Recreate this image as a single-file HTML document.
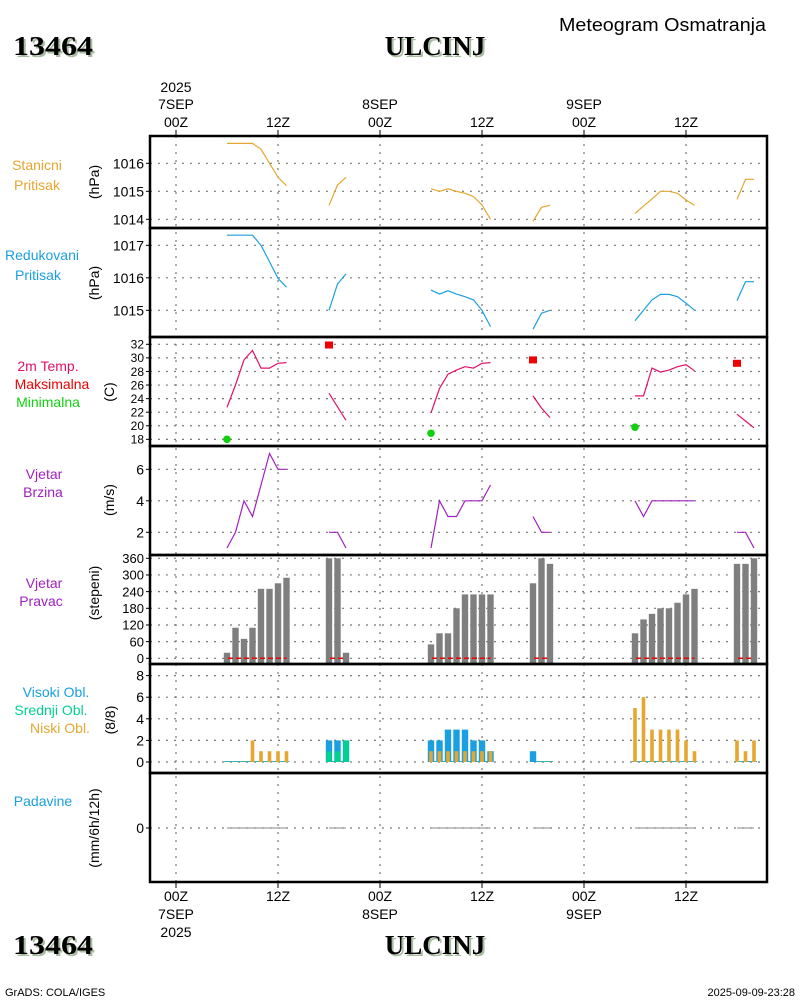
<!DOCTYPE html>
<html><head><meta charset="utf-8">
<style>
html,body{margin:0;padding:0;background:#fff;}
svg{display:block;font-family:"Liberation Sans",sans-serif;}
.t{font-size:14px;fill:#000;}
.big{font-family:"Liberation Serif",serif;font-weight:bold;font-size:27px;fill:#000;}
</style></head>
<body>
<svg id="chart" width="800" height="1000" viewBox="0 0 800 1000" xmlns="http://www.w3.org/2000/svg">
<g>
<text x="559" y="31" font-size="18" textLength="207" lengthAdjust="spacingAndGlyphs">Meteogram Osmatranja</text>
<text x="15" y="57" class="big" textLength="80" lengthAdjust="spacingAndGlyphs" style="fill:#a8bca0">13464</text>
<text x="13" y="55" class="big" textLength="80" lengthAdjust="spacingAndGlyphs">13464</text>
<text x="437" y="57" class="big" text-anchor="middle" style="fill:#a8bca0">ULCINJ</text>
<text x="435" y="55" class="big" text-anchor="middle">ULCINJ</text>
</g>
<g>
<text x="15" y="956" class="big" textLength="80" lengthAdjust="spacingAndGlyphs" style="fill:#a8bca0">13464</text>
<text x="13" y="954" class="big" textLength="80" lengthAdjust="spacingAndGlyphs">13464</text>
<text x="437" y="956" class="big" text-anchor="middle" style="fill:#a8bca0">ULCINJ</text>
<text x="435" y="954" class="big" text-anchor="middle">ULCINJ</text>
<text x="5" y="996" font-size="11">GrADS: COLA/IGES</text>
<text x="795" y="996" font-size="11" text-anchor="end">2025-09-09-23:28</text>
</g>
<g id="grid"></g>
<g id="marks"></g>
<g id="frames"></g>
<g id="labels"></g>
</svg>
<script>
// ---- data ----
const hours = [6,7,8,9,10,11,12,13, 18,19,20, 30,31,32,33,34,35,36,37, 42,43,44, 54,55,56,57,58,59,60,61, 66,67,68];
const groups = [0,0,0,0,0,0,0,0, 1,1,1, 2,2,2,2,2,2,2,2, 3,3,3, 4,4,4,4,4,4,4,4, 5,5,5];
const stationP = [1016.71,1016.71,1016.71,1016.71,1016.5,1016.0,1015.5,1015.2, 1014.5,1015.22,1015.5, 1015.09,1015.0,1015.09,1015.0,1014.93,1014.81,1014.51,1014.0, 1013.93,1014.43,1014.5, 1014.21,1014.47,1014.73,1015.0,1015.0,1014.93,1014.69,1014.5, 1014.71,1015.43,1015.43];
const reducedP = [1017.31,1017.31,1017.31,1017.31,1017.0,1016.5,1015.98,1015.71, 1015.0,1015.81,1016.12, 1015.62,1015.5,1015.6,1015.5,1015.42,1015.32,1015.0,1014.5, 1014.42,1014.91,1015.0, 1014.68,1015.0,1015.32,1015.49,1015.49,1015.42,1015.22,1015.0, 1015.3,1015.88,1015.88];
const temp = [22.7,26.0,29.7,31.1,28.5,28.5,29.2,29.3, 24.8,22.8,20.8, 21.9,25.5,27.6,28.2,28.7,28.5,29.2,29.3, 24.4,22.6,21.2, 24.4,24.4,28.5,27.9,28.2,28.7,29.0,28.1, 21.7,20.7,19.7];
const tmaxHours = [18,42,66];
const tmaxVals = [31.9,29.7,29.2];
const tminHours = [6,30,54];
const tminVals = [18.0,18.9,19.8];
const windSpeed = [1,2,4,3,5,7,6,6, 2,2,1, 1,4,3,3,4,4,4,5, 3,2,2, 4,3,4,4,4,4,4,4, 2,2,1];
const windDir = [20,110,70,110,250,250,270,290, 360,360,20, 50,90,90,180,230,230,230,230, 270,360,340, 90,140,160,180,180,200,230,250, 340,340,360];
const cloudHigh = [0,0,0,0,0,0,0,0, 2,2,2, 2,2,3,3,3,2,2,1, 1,0,0, 0,0,0,0,0,0,0,0, 0,0,0];
const cloudMid = [0,0,0,0,0,0,0,0, 1,1,2, 0,0,0,0,0,0,0,0, 0,0,0, 0,0,0,0,0,0,0,0, 0,0,0];
const cloudLow = [0,0,0,2,1,1,1,1, 0,0,0, 1,1,1,1,1,1,1,1, 0,0,0, 5,6,3,3,3,3,2,1, 2,1,2];
const precip = [0,0,0,0,0,0,0,0, 0,0,0, 0,0,0,0,0,0,0,0, 0,0,0, 0,0,0,0,0,0,0,0, 0,0,0];
const p1Ticks = [1014,1015,1016];
const p2Ticks = [1015,1016,1017];
const p3Ticks = [18,20,22,24,26,28,30,32];
const p4Ticks = [2,4,6];
const p5Ticks = [0,60,120,180,240,300,360];
const p6Ticks = [0,2,4,6,8];
const p7Ticks = [0];
const timeTicks = [0,12,24,36,48,60];
const timeLabels = ["00Z","12Z","00Z","12Z","00Z","12Z"];
const dateLabels = ["7SEP","","8SEP","","9SEP",""];

// ---- scales ----
const X = h => 176 + h*8.5;
const L = 150, R = 767;
const panels = [[136,228],[228,337],[337,446],[446,555],[555,664],[664,773],[773,882]];
const Y1 = v => 163.3 + (1016 - v)*28;
const Y2 = v => 245.3 + (1017 - v)*32.5;
const Y3 = v => 344.3 + (32 - v)*6.79;
const Y4 = v => 532.3 - (v - 2)*15.75;
const Y5 = v => 658.3 - v*0.2778;
const Y6 = v => 762 - v*10.8;
const Y7 = v => 828 - v*20;

const NS = "http://www.w3.org/2000/svg";
function mk(tag, attrs, parent){ const e=document.createElementNS(NS,tag); for(const k in attrs) e.setAttribute(k,attrs[k]); parent.appendChild(e); return e; }
const grid = document.getElementById('grid'), marks = document.getElementById('marks'), frames = document.getElementById('frames'), labels = document.getElementById('labels');

panels.forEach((p,i)=>{
  const r = mk('rect',{x:L,y:p[0],width:R-L,height:p[1]-p[0],fill:'none',stroke:'#000','stroke-width':2.5},frames);
  
  
});
timeTicks.forEach((h,i)=>{
  const x = X(h);
  const g = mk('line',{x1:x,x2:x,y1:136,y2:882,stroke:'#777','stroke-width':1.2,'stroke-dasharray':'2,6'},grid);
  
  
  mk('line',{x1:x,x2:x,y1:130,y2:136,stroke:'#000'},grid);
  mk('line',{x1:x,x2:x,y1:882,y2:888,stroke:'#000'},grid);
  const t = mk('text',{x:x,y:127,'text-anchor':'middle',class:'t'},labels); t.textContent = timeLabels[i];
  
  
  const b = mk('text',{x:x,y:901,'text-anchor':'middle',class:'t'},labels); b.textContent = timeLabels[i];
  
  
  if(dateLabels[i]){
    const d = mk('text',{x:x,y:109,'text-anchor':'middle',class:'t'},labels); d.textContent = dateLabels[i];
    
    
    const d2 = mk('text',{x:x,y:919,'text-anchor':'middle',class:'t'},labels); d2.textContent = dateLabels[i];
    
    
  }
});
{ const y1 = mk('text',{x:X(0),y:92,'text-anchor':'middle',class:'t'},labels); y1.textContent='2025';
   
  const y2 = mk('text',{x:X(0),y:937,'text-anchor':'middle',class:'t'},labels); y2.textContent='2025';
    }

function yAxis(ticks, Y, fs, name){
  ticks.forEach(v=>{
    const y = Y(v);
    const g = mk('line',{x1:L,x2:R,y1:y,y2:y,stroke:'#777','stroke-width':1.2,'stroke-dasharray':'2,6'},grid);
    
    
    mk('line',{x1:L-4,x2:L,y1:y,y2:y,stroke:'#000'},grid);
    const t = mk('text',{x:L-6,y:y+fs*0.36,'text-anchor':'end','font-size':fs},labels); t.textContent = v;
    
    
  });
}
yAxis(p1Ticks,Y1,14,'station-pressure');
yAxis(p2Ticks,Y2,14,'reduced-pressure');
yAxis(p3Ticks,Y3,12,'temperature');
yAxis(p4Ticks,Y4,14,'wind-speed');
yAxis(p5Ticks,Y5,13,'wind-direction');
yAxis(p6Ticks,Y6,14,'cloud');
yAxis(p7Ticks,Y7,14,'precip');

function lab(x,y,txt,col,name,rot){
  const a = {x:x,y:y,'text-anchor':'middle','font-size':14,fill:col};
  if(rot) a.transform = 'rotate(-90 '+x+' '+y+')';
  const t = mk('text',a,labels); t.textContent = txt;
  
  
}
const OR='#e6a630', BL='#1aa0e0', MG='#e0106a', RD='#f00000', GN='#10d010', PU='#a020c0', CG='#00d090';
lab(37,170,'Stanicni',OR,'station-pressure-label');
lab(37,190,'Pritisak',OR,'station-pressure-label-2');
lab(99,182,'(hPa)','#000','station-pressure-unit',true);
lab(42,260,'Redukovani',BL,'reduced-pressure-label');
lab(38,280,'Pritisak',BL,'reduced-pressure-label-2');
lab(99,283,'(hPa)','#000','reduced-pressure-unit',true);
lab(48,371,'2m Temp.',MG,'temperature-label');
lab(52,389,'Maksimalna',RD,'tmax-label');
lab(48,407,'Minimalna',GN,'tmin-label');
lab(114,392,'(C)','#000','temperature-unit',true);
lab(44,479,'Vjetar',PU,'wind-speed-label');
lab(43,497,'Brzina',PU,'wind-speed-label-2');
lab(114,500,'(m/s)','#000','wind-speed-unit',true);
lab(44,588,'Vjetar',PU,'wind-direction-label');
lab(41,606,'Pravac',PU,'wind-direction-label-2');
lab(99,593,'(stepeni)','#000','wind-direction-unit',true);
lab(56,697,'Visoki Obl.',BL,'high-cloud-label');
lab(51,715,'Srednji Obl.',CG,'mid-cloud-label');
lab(60,733,'Niski Obl.',OR,'low-cloud-label');
lab(115,720,'(8/8)','#000','cloud-unit',true);
lab(43,806,'Padavine',BL,'precip-label');
lab(99,828,'(mm/6h/12h)','#000','precip-unit',true);

function series(vals, Y, col, name){
  let cur=null, pts=[];
  const flush=()=>{ if(pts.length){ const p=mk('polyline',{points:pts.join(' '),fill:'none',stroke:col,'stroke-width':1.2},marks);
    
     } pts=[]; };
  vals.forEach((v,i)=>{ if(groups[i]!==cur){ flush(); cur=groups[i]; } pts.push(X(hours[i]).toFixed(1)+','+Y(v).toFixed(1)); });
  flush();
}
series(stationP,Y1,OR,'station-pressure');
series(reducedP,Y2,BL,'reduced-pressure');
series(temp,Y3,MG,'temperature');
series(windSpeed,Y4,PU,'wind-speed');

tmaxVals.forEach((v,i)=>{
  const r = mk('rect',{x:X(tmaxHours[i])-4,y:Y3(v)-3.5,width:8,height:7,fill:RD},marks);
  
  
});
tminVals.forEach((v,i)=>{
  const c = mk('circle',{cx:X(tminHours[i]),cy:Y3(v),r:3.8,fill:GN},marks);
  
  
});

windDir.forEach((v,i)=>{
  const x = X(hours[i]);
  const r = mk('rect',{x:x-3.2,y:Y5(v),width:6.4,height:Y5(0)-Y5(v)+5,fill:'#7f7f7f'},marks);
  
  
});
function groupSpans(){ const s={}; hours.forEach((h,i)=>{ const g=groups[i]; if(!s[g]) s[g]=[h,h]; s[g][1]=h; }); return Object.values(s); }
groupSpans().forEach(sp=>{
  const l = mk('line',{x1:X(sp[0])+1,x2:X(sp[1]),y1:Y5(0),y2:Y5(0),stroke:RD,'stroke-width':1.5,'stroke-dasharray':'5,3'},marks);
  
  
  const p = mk('line',{x1:X(sp[0]),x2:X(sp[1]),y1:Y7(0),y2:Y7(0),stroke:'#888','stroke-width':1},marks);
  
  
  const c = mk('line',{x1:X(sp[0])-3,x2:X(sp[1])+3,y1:Y6(0)-0.5,y2:Y6(0)-0.5,stroke:'#3ab0b0','stroke-width':1},marks);
  
  
});
precip.forEach((v,i)=>{ if(v>0){ const x=X(hours[i]);
  const r = mk('rect',{x:x-3,y:Y7(v),width:6,height:Y7(0)-Y7(v),fill:BL},marks);
  
   } });

cloudHigh.forEach((v,i)=>{ if(v>0){ const x=X(hours[i]);
  const r = mk('rect',{x:x-3.2,y:Y6(v),width:6.4,height:Y6(0)-Y6(v),fill:BL},marks);
  
   } });
cloudMid.forEach((v,i)=>{ if(v>0){ const x=X(hours[i]);
  const r = mk('rect',{x:x-2.8,y:Y6(v),width:5.6,height:Y6(0)-Y6(v),fill:CG},marks);
  
   } });
cloudLow.forEach((v,i)=>{ if(v>0){ const x=X(hours[i]);
  const r = mk('rect',{x:x-1.8,y:Y6(v),width:3.6,height:Y6(0)-Y6(v),fill:OR},marks);
  
   } });
</script>
</body></html>
